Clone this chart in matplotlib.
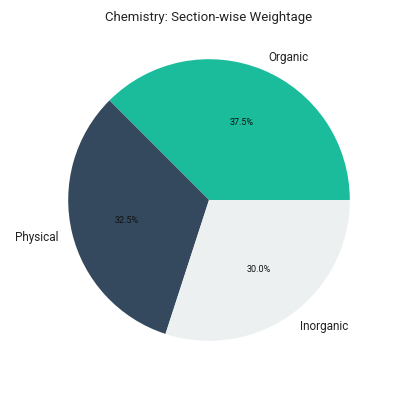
import matplotlib.pyplot as plt

plt.rcParams['font.family'] = ['Roboto', 'DejaVu Sans']

sections = ['Organic', 'Physical', 'Inorganic']
weightage = [37.5, 32.5, 30.0]
colors = ['#1abc9c', '#34495e', '#ecf0f1']

fig = plt.figure(figsize=(4.18, 4.06), dpi=100)
ax = fig.add_axes([33 / 418, 29 / 406, 352 / 418, 352 / 406])

wedges, texts, autotexts = ax.pie(weightage, labels=sections, colors=colors,
                                  autopct='%1.1f%%', startangle=0)
for t in texts:
    t.set_fontsize(8.5)
    t.set_color('#222222')
for t in autotexts:
    t.set_fontsize(6.5)
    t.set_color('#111111')

fig.text(0.5, (406 - 18) / 406, 'Chemistry: Section-wise Weightage',
         ha='center', va='center', fontsize=9.5, color='#222222')

plt.savefig('out.png', dpi=100)
